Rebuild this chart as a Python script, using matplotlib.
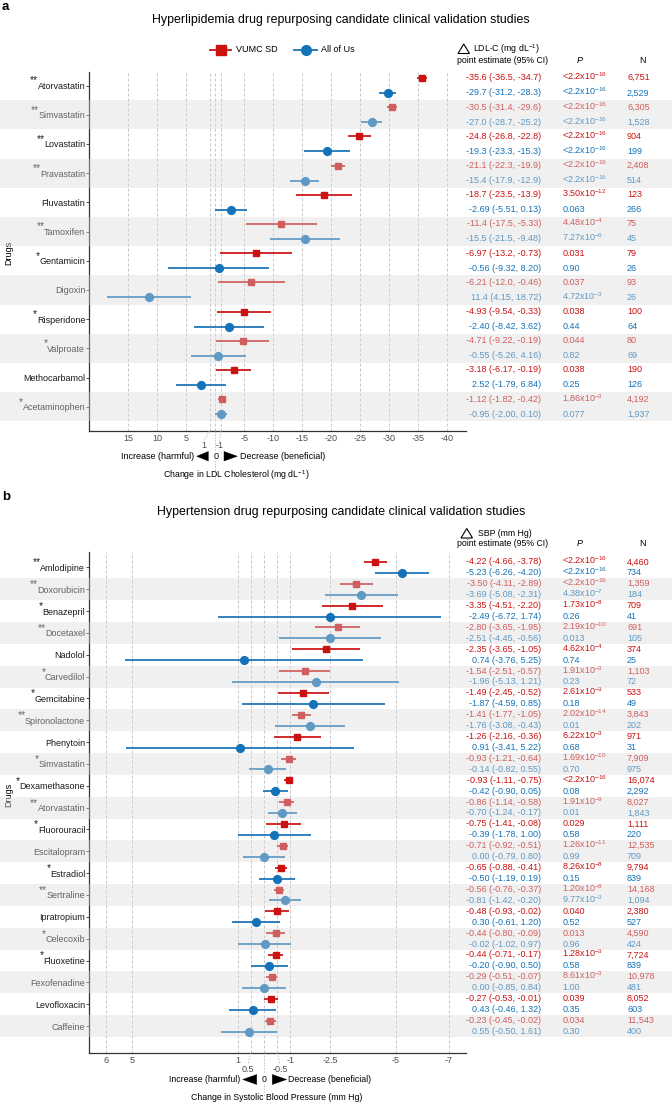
import matplotlib
matplotlib.use('Agg')
import matplotlib.pyplot as plt
from matplotlib.patches import Rectangle, Polygon
from matplotlib.lines import Line2D

W, H = 672, 1104
DPI = 100
plt.rcParams['font.family'] = ['Liberation Sans', 'DejaVu Sans']
plt.rcParams['mathtext.fontset'] = 'custom'
plt.rcParams['mathtext.rm'] = 'Liberation Sans'
plt.rcParams['mathtext.it'] = 'Liberation Sans:italic'
plt.rcParams['mathtext.bf'] = 'Liberation Sans:bold'
plt.rcParams['mathtext.default'] = 'regular'

RED = '#CC1111'
BLUE = '#1472B8'
GRID = '#BDBDBD'
TXT = '#4D4D4D'

# ---------------- Panel a : hyperlipidemia (LDL-C) ----------------
lipid_drugs = ['Atorvastatin', 'Simvastatin', 'Lovastatin', 'Pravastatin', 'Fluvastatin',
               'Tamoxifen', 'Gentamicin', 'Digoxin', 'Risperidone', 'Valproate',
               'Methocarbamol', 'Acetaminophen']
lipid_stars = ['**', '**', '**', '**', '', '**', '*', '', '*', '*', '', '*']
lipid_vumc_est = [-35.6, -30.5, -24.8, -21.1, -18.7, -11.4, -6.97, -6.21, -4.93, -4.71, -3.18, -1.12]
lipid_vumc_lo = [-36.5, -31.4, -26.8, -22.3, -23.5, -17.5, -13.2, -12.0, -9.54, -9.22, -6.17, -1.82]
lipid_vumc_hi = [-34.7, -29.6, -22.8, -19.9, -13.9, -5.33, -0.73, -0.46, -0.33, -0.19, -0.19, -0.42]
lipid_vumc_txt = ['-35.6 (-36.5, -34.7)', '-30.5 (-31.4, -29.6)', '-24.8 (-26.8, -22.8)',
                  '-21.1 (-22.3, -19.9)', '-18.7 (-23.5, -13.9)', '-11.4 (-17.5, -5.33)',
                  '-6.97 (-13.2, -0.73)', '-6.21 (-12.0, -0.46)', '-4.93 (-9.54, -0.33)',
                  '-4.71 (-9.22, -0.19)', '-3.18 (-6.17, -0.19)', '-1.12 (-1.82, -0.42)']
lipid_vumc_p = ['<2.2x10^-16', '<2.2x10^-16', '<2.2x10^-16', '<2.2x10^-16', '3.50x10^-12',
                '4.48x10^-4', '0.031', '0.037', '0.038', '0.044', '0.038', '1.86x10^-3']
lipid_vumc_n = ['6,751', '6,305', '904', '2,408', '123', '75', '79', '93', '100', '80', '190', '4,192']
lipid_aou_est = [-29.7, -27.0, -19.3, -15.4, -2.69, -15.5, -0.56, 11.4, -2.40, -0.55, 2.52, -0.95]
lipid_aou_lo = [-31.2, -28.7, -23.3, -17.9, -5.51, -21.5, -9.32, 4.15, -8.42, -5.26, -1.79, -2.00]
lipid_aou_hi = [-28.3, -25.2, -15.3, -12.9, 0.13, -9.48, 8.20, 18.72, 3.62, 4.16, 6.84, 0.10]
lipid_aou_txt = ['-29.7 (-31.2, -28.3)', '-27.0 (-28.7, -25.2)', '-19.3 (-23.3, -15.3)',
                 '-15.4 (-17.9, -12.9)', '-2.69 (-5.51, 0.13)', '-15.5 (-21.5, -9.48)',
                 '-0.56 (-9.32, 8.20)', '11.4 (4.15, 18.72)', '-2.40 (-8.42, 3.62)',
                 '-0.55 (-5.26, 4.16)', '2.52 (-1.79, 6.84)', '-0.95 (-2.00, 0.10)']
lipid_aou_p = ['<2.2x10^-16', '<2.2x10^-16', '<2.2x10^-16', '<2.2x10^-16', '0.063',
               '7.27x10^-6', '0.90', '4.72x10^-3', '0.44', '0.82', '0.25', '0.077']
lipid_aou_n = ['2,529', '1,528', '199', '514', '266', '45', '26', '26', '64', '69', '126', '1,937']
lipid_ticks = [15, 10, 5, -5, -10, -15, -20, -25, -30, -35, -40]
lipid_tick_labels = ['15', '10', '5', '-5', '-10', '-15', '-20', '-25', '-30', '-35', '-40']
lipid_small_ticks = [1, -1]
lipid_small_labels = ['1', '-1']

# ---------------- Panel b : hypertension (SBP) ----------------
bp_drugs = ['Amlodipine', 'Doxorubicin', 'Benazepril', 'Docetaxel', 'Nadolol', 'Carvedilol',
            'Gemcitabine', 'Spironolactone', 'Phenytoin', 'Simvastatin', 'Dexamethasone',
            'Atorvastatin', 'Fluorouracil', 'Escitalopram', 'Estradiol', 'Sertraline',
            'Ipratropium', 'Celecoxib', 'Fluoxetine', 'Fexofenadine', 'Levofloxacin', 'Caffeine']
bp_stars = ['**', '**', '*', '**', '', '*', '*', '**', '', '*', '*', '**', '*', '', '*', '**',
            '', '*', '*', '', '', '']
bp_vumc_est = [-4.22, -3.50, -3.35, -2.80, -2.35, -1.54, -1.49, -1.41, -1.26, -0.93, -0.93,
               -0.86, -0.75, -0.71, -0.65, -0.56, -0.48, -0.44, -0.44, -0.29, -0.27, -0.23]
bp_vumc_lo = [-4.66, -4.11, -4.51, -3.65, -3.65, -2.51, -2.45, -1.77, -2.16, -1.21, -1.11,
              -1.14, -1.41, -0.92, -0.88, -0.76, -0.93, -0.80, -0.71, -0.51, -0.53, -0.45]
bp_vumc_hi = [-3.78, -2.89, -2.20, -1.95, -1.05, -0.57, -0.52, -1.05, -0.36, -0.64, -0.75,
              -0.58, -0.08, -0.51, -0.41, -0.37, -0.02, -0.09, -0.17, -0.07, -0.01, -0.02]
bp_vumc_txt = ['-4.22 (-4.66, -3.78)', '-3.50 (-4.11, -2.89)', '-3.35 (-4.51, -2.20)',
               '-2.80 (-3.65, -1.95)', '-2.35 (-3.65, -1.05)', '-1.54 (-2.51, -0.57)',
               '-1.49 (-2.45, -0.52)', '-1.41 (-1.77, -1.05)', '-1.26 (-2.16, -0.36)',
               '-0.93 (-1.21, -0.64)', '-0.93 (-1.11, -0.75)', '-0.86 (-1.14, -0.58)',
               '-0.75 (-1.41, -0.08)', '-0.71 (-0.92, -0.51)', '-0.65 (-0.88, -0.41)',
               '-0.56 (-0.76, -0.37)', '-0.48 (-0.93, -0.02)', '-0.44 (-0.80, -0.09)',
               '-0.44 (-0.71, -0.17)', '-0.29 (-0.51, -0.07)', '-0.27 (-0.53, -0.01)',
               '-0.23 (-0.45, -0.02)']
bp_vumc_p = ['<2.2x10^-16', '<2.2x10^-16', '1.73x10^-8', '2.19x10^-10', '4.62x10^-4',
             '1.91x10^-3', '2.61x10^-3', '2.02x10^-14', '6.22x10^-3', '1.69x10^-10',
             '<2.2x10^-16', '1.91x10^-9', '0.029', '1.26x10^-11', '8.26x10^-8', '1.20x10^-8',
             '0.040', '0.013', '1.28x10^-3', '8.61x10^-3', '0.039', '0.034']
bp_vumc_n = ['4,460', '1,359', '709', '691', '374', '1,103', '533', '3,843', '971', '7,909',
             '16,074', '8,027', '1,111', '12,535', '9,794', '14,168', '2,380', '4,590', '7,724',
             '10,978', '8,052', '11,543']
bp_aou_est = [-5.23, -3.69, -2.49, -2.51, 0.74, -1.96, -1.87, -1.76, 0.91, -0.14, -0.42,
              -0.70, -0.39, 0.00, -0.50, -0.81, 0.30, -0.02, -0.20, 0.00, 0.43, 0.55]
bp_aou_lo = [-6.26, -5.08, -6.72, -4.45, -3.76, -5.13, -4.59, -3.08, -3.41, -0.82, -0.90,
             -1.24, -1.78, -0.79, -1.19, -1.42, -0.61, -1.02, -0.90, -0.85, -0.46, -0.50]
bp_aou_hi = [-4.20, -2.31, 1.74, -0.56, 5.25, 1.21, 0.85, -0.43, 5.22, 0.55, 0.05,
             -0.17, 1.00, 0.80, 0.19, -0.20, 1.20, 0.97, 0.50, 0.84, 1.32, 1.61]
bp_aou_txt = ['-5.23 (-6.26, -4.20)', '-3.69 (-5.08, -2.31)', '-2.49 (-6.72, 1.74)',
              '-2.51 (-4.45, -0.56)', '0.74 (-3.76, 5.25)', '-1.96 (-5.13, 1.21)',
              '-1.87 (-4.59, 0.85)', '-1.76 (-3.08, -0.43)', '0.91 (-3.41, 5.22)',
              '-0.14 (-0.82, 0.55)', '-0.42 (-0.90, 0.05)', '-0.70 (-1.24, -0.17)',
              '-0.39 (-1.78, 1.00)', '0.00 (-0.79, 0.80)', '-0.50 (-1.19, 0.19)',
              '-0.81 (-1.42, -0.20)', '0.30 (-0.61, 1.20)', '-0.02 (-1.02, 0.97)',
              '-0.20 (-0.90, 0.50)', '0.00 (-0.85, 0.84)', '0.43 (-0.46, 1.32)',
              '0.55 (-0.50, 1.61)']
bp_aou_p = ['<2.2x10^-16', '4.38x10^-7', '0.26', '0.013', '0.74', '0.23', '0.18', '0.01',
            '0.68', '0.70', '0.08', '0.01', '0.58', '0.99', '0.15', '9.77x10^-3', '0.52',
            '0.96', '0.58', '1.00', '0.35', '0.30']
bp_aou_n = ['734', '184', '41', '105', '25', '72', '49', '202', '31', '975', '2,292', '1,843',
            '220', '709', '839', '1,094', '527', '424', '839', '481', '603', '400']
bp_ticks = [6, 5, 1, -1, -2.5, -5, -7]
bp_tick_labels = ['6', '5', '1', '-1', '-2.5', '-5', '-7']
bp_small_ticks = [0.5, -0.5]
bp_small_labels = ['0.5', '-0.5']

# ---------------------------------------------------------------
fig = plt.figure(figsize=(W / DPI, H / DPI), dpi=DPI)


def fx(x):
    return x / W


def fy(y):
    return 1 - y / H


def ftext(x, y, s, **kw):
    kw.setdefault('fontsize', 6.5)
    return fig.text(fx(x), fy(y), s, **kw)


def ptxt(s):
    if '^' in s:
        b, e = s.split('^')
        return b + '$^{' + e + '}$'
    return s


def tri(x0, x1, y0, y1, left):
    ym = (y0 + y1) / 2
    if left:
        pts = [(x0, ym), (x1, y0), (x1, y1)]
    else:
        pts = [(x1, ym), (x0, y0), (x0, y1)]
    fig.add_artist(Polygon([(fx(a), fy(b)) for a, b in pts], closed=True,
                           transform=fig.transFigure, fc='black', ec='black', lw=0.3))


def panel(top, bot, y0, pitch, zero_px, upx, drugs, stars,
          re, rl, rh, be, bl, bh, rtxt, rp, rn, btxt, bp, bn,
          ticks, tlabels, sticks, slabels, off):
    left, right = 89.3, 466.0
    ax = fig.add_axes([fx(left), fy(bot), (right - left) / W, (bot - top) / H])
    ax.set_xlim((zero_px - left) / upx, (zero_px - right) / upx)
    n = len(drugs)
    ax.set_ylim((bot - y0) / pitch, (top - y0) / pitch)
    for s in ['top', 'right']:
        ax.spines[s].set_visible(False)
    for s in ['left', 'bottom']:
        ax.spines[s].set_color('#333333')
        ax.spines[s].set_linewidth(0.9)
    for v in list(ticks) + list(sticks) + [0]:
        ax.axvline(v, color=GRID, lw=0.6, ls=(0, (3.5, 2.5)), zorder=0)
    ax.set_xticks(ticks, tlabels)
    ax.tick_params(axis='x', length=0, pad=2.2, labelsize=6.5, labelcolor=TXT)
    ax.set_yticks(range(n), drugs)
    ax.tick_params(axis='y', length=2.2, width=0.6, color='#333333', pad=0.8,
                   labelsize=6.5, labelcolor='#1A1A1A')
    for i in range(n):
        ax.plot([rl[i], rh[i]], [i - off, i - off], color=RED, lw=1.25, solid_capstyle='butt')
        ax.plot(re[i], i - off, marker='s', ms=5.0, color=RED, mec=RED)
        ax.plot([bl[i], bh[i]], [i + off, i + off], color=BLUE, lw=1.25, solid_capstyle='butt')
        ax.plot(be[i], i + off, marker='o', ms=5.6, color=BLUE, mec=BLUE)
        yr = y0 + pitch * (i - off)
        yb = y0 + pitch * (i + off)
        for yy, c, t, p, nn in [(yr, RED, rtxt[i], rp[i], rn[i]), (yb, BLUE, btxt[i], bp[i], bn[i])]:
            ftext(541, yy + 2.4, t, ha='right', va='baseline', color=c)
            ftext(562.3, yy + 2.4, ptxt(p), ha='left', va='baseline', color=c)
            ftext(627, yy + 2.4, nn, ha='left', va='baseline', color=c)
    # alternating band overlay
    for i in range(1, n, 2):
        yt = y0 + pitch * (i - 0.5)
        fig.add_artist(Rectangle((0, fy(yt + pitch)), 1, pitch / H, transform=fig.transFigure,
                                 fc=(0.85, 0.85, 0.85), alpha=0.39, ec='none', zorder=10))
    # stars
    fig.canvas.draw()
    r = fig.canvas.get_renderer()
    for lbl, st in zip(ax.get_yticklabels(), stars):
        if st:
            bb = lbl.get_window_extent(r)
            yc = H - (bb.y0 + bb.y1) / 2
            ftext(bb.x0 + 0.5, yc - 3.0, st, ha='right', va='baseline', fontsize=7.4, color='#1A1A1A')
    return ax


# ---------------- panel a ----------------
ftext(2, 7, 'a', fontweight='bold', fontsize=9.5, ha='left', va='center')
ftext(341, 20, 'Hyperlipidemia drug repurposing candidate clinical validation studies',
      fontsize=8.9, ha='center', va='center')

axa = panel(71.7, 430.7, 85.5, 29.2, 215.3, 5.8, lipid_drugs, lipid_stars,
            lipid_vumc_est, lipid_vumc_lo, lipid_vumc_hi, lipid_aou_est, lipid_aou_lo, lipid_aou_hi,
            lipid_vumc_txt, lipid_vumc_p, lipid_vumc_n, lipid_aou_txt, lipid_aou_p, lipid_aou_n,
            lipid_ticks, lipid_tick_labels, lipid_small_ticks, lipid_small_labels, 0.26)

# legend
fig.add_artist(Line2D([fx(210), fx(231)], [fy(50), fy(50)], color=RED, lw=1.3))
fig.add_artist(Line2D([fx(221)], [fy(50)], marker='s', ms=6.5, color=RED, lw=0))
ftext(236, 50, 'VUMC SD', ha='left', va='center')
fig.add_artist(Line2D([fx(294), fx(317)], [fy(50), fy(50)], color=BLUE, lw=1.3))
fig.add_artist(Line2D([fx(305.5)], [fy(50)], marker='o', ms=7, color=BLUE, lw=0))
ftext(321, 50, 'All of Us', ha='left', va='center')

# header
fig.add_artist(Polygon([(fx(458), fy(53.5)), (fx(469.5), fy(53.5)), (fx(463.75), fy(44))],
                       closed=True, fill=False, ec='black', lw=0.8, transform=fig.transFigure))
ftext(473, 49, r'LDL-C (mg dL$^{-1}$)', ha='left', va='center', fontsize=6.3)
ftext(503, 60.5, 'point estimate (95% CI)', ha='center', va='center', fontsize=6.3)
ftext(580, 60.5, 'P', ha='center', va='center', style='italic', fontsize=6.5)
ftext(642, 60.5, 'N', ha='center', va='center', fontsize=6.5)

# x-axis annotations a
for xg, xl, lab in [(209.5, 204, '1'), (221.1, 219.5, '-1')]:
    fig.add_artist(Line2D([fx(xg), fx(xl)], [fy(431), fy(441)], color=GRID, lw=0.6, ls=(0, (2, 1.5))))
    ftext(xl, 445, lab, ha='center', va='center', color=TXT)
fig.add_artist(Line2D([fx(215.3), fx(215.3)], [fy(431), fy(479)], color=GRID, lw=0.6, ls=(0, (2, 1.5))))
ftext(194, 456, 'Increase (harmful)', ha='right', va='center')
tri(196.7, 208.3, 451.5, 461, True)
ftext(216, 456, '0', ha='center', va='center', bbox=dict(fc='white', ec='none', pad=0.6))
tri(224, 237.3, 451.5, 461, False)
ftext(240, 456, 'Decrease (beneficial)', ha='left', va='center')
ftext(236.3, 475, r'Change in LDL Cholesterol (mg dL$^{-1}$)', ha='center', va='center', fontsize=6.3)
ftext(8.3, 253, 'Drugs', rotation=90, ha='center', va='center')

# ---------------- panel b ----------------
ftext(2, 496.5, 'b', fontweight='bold', fontsize=9.5, ha='left', va='center')
ftext(341, 512, 'Hypertension drug repurposing candidate clinical validation studies',
      fontsize=8.9, ha='center', va='center')

axb = panel(551.7, 1052.7, 567.4, 21.84, 264.0, 26.4, bp_drugs, bp_stars,
            bp_vumc_est, bp_vumc_lo, bp_vumc_hi, bp_aou_est, bp_aou_lo, bp_aou_hi,
            bp_vumc_txt, bp_vumc_p, bp_vumc_n, bp_aou_txt, bp_aou_p, bp_aou_n,
            bp_ticks, bp_tick_labels, bp_small_ticks, bp_small_labels, 0.25)

fig.add_artist(Polygon([(fx(461), fy(538)), (fx(472.5), fy(538)), (fx(466.75), fy(528.5))],
                       closed=True, fill=False, ec='black', lw=0.8, transform=fig.transFigure))
ftext(478, 533, 'SBP (mm Hg)', ha='left', va='center', fontsize=6.3)
ftext(503, 543.5, 'point estimate (95% CI)', ha='center', va='center', fontsize=6.3)
ftext(580, 543.5, 'P', ha='center', va='center', style='italic', fontsize=6.5)
ftext(642, 543.5, 'N', ha='center', va='center', fontsize=6.5)

for xg, xl, lab in [(250.8, 248, '0.5'), (277.2, 280, '-0.5')]:
    fig.add_artist(Line2D([fx(xg), fx(xl)], [fy(1053), fy(1064)], color=GRID, lw=0.6, ls=(0, (2, 1.5))))
    ftext(xl, 1069, lab, ha='center', va='center', color=TXT)
fig.add_artist(Line2D([fx(264), fx(264)], [fy(1053), fy(1097)], color=GRID, lw=0.6, ls=(0, (2, 1.5))))
ftext(240, 1079, 'Increase (harmful)', ha='right', va='center', fontsize=6.3)
tri(242.7, 256.7, 1074.5, 1084.5, True)
ftext(264, 1079, '0', ha='center', va='center', fontsize=6.3, bbox=dict(fc='white', ec='none', pad=0.6))
tri(272.3, 286.7, 1074.5, 1084.5, False)
ftext(288, 1079, 'Decrease (beneficial)', ha='left', va='center', fontsize=6.3)
ftext(276.3, 1098, 'Change in Systolic Blood Pressure (mm Hg)', ha='center', va='center', fontsize=6.3)
ftext(8.3, 795, 'Drugs', rotation=90, ha='center', va='center')

fig.savefig('out.png', dpi=DPI)
